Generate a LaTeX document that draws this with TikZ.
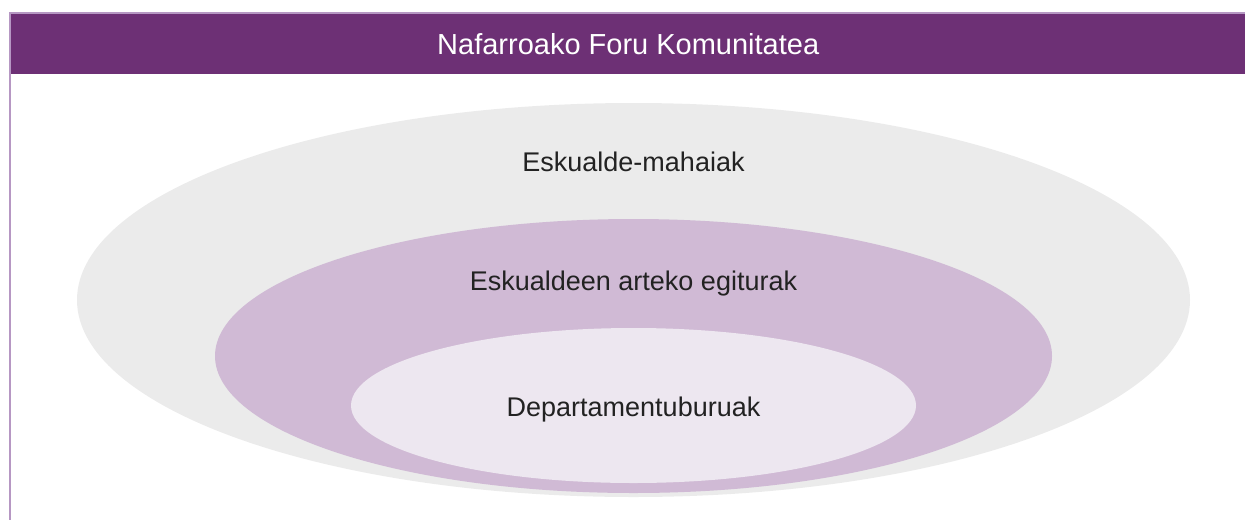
\documentclass[tikz,border=0pt]{standalone}
\usepackage{fontspec}
\setmainfont{Liberation Sans}
\usetikzlibrary{%
    shapes.geometric,
    positioning
}
\definecolor{headpurple}{HTML}{6D3075}
\definecolor{framepurple}{HTML}{B697C3}
\definecolor{outergrey}{HTML}{EBEBEB}
\definecolor{midpurple}{HTML}{D0BAD5}
\definecolor{innerpurple}{HTML}{EDE7F0}
\definecolor{textgrey}{HTML}{222222}

\begin{document}
\begin{tikzpicture}[x=1pt, y=-1pt,
    ring/.style={ellipse, draw=none, inner sep=0pt},
    lbl/.style={text=textgrey, font=\fontsize{27}{32}\selectfont}]
      \useasboundingbox (0,0) rectangle (1245,520);

      % frame and header
      \coordinate (f_tr) at (1245,13);
      \coordinate (f_tl) at (10,13);
      \coordinate (f_bl) at (10,520);
      \node[anchor=north west, fill=headpurple, inner sep=0pt, minimum width=1234pt, minimum height=60pt,
        text=white, font=\fontsize{29}{34}\selectfont] (head) at (11,14) {Nafarroako Foru Komunitatea};
      \draw[framepurple, line width=2pt] (f_tr) -- (f_tl) -- (f_bl);

      % nested ellipses
      \node[ring, fill=outergrey, minimum width=1113pt, minimum height=394pt] (outer) at (633.5,300) {};
      \node[ring, fill=midpurple, minimum width=837pt, minimum height=274pt] (mid) at (633.5,356) {};
      \node[ring, fill=innerpurple, minimum width=565pt, minimum height=155pt] (inner) at (633.5,405.5) {};

      \node[lbl] (outer_t) at (633.5,162) {Eskualde-mahaiak};
      \node[lbl] (mid_t) at (633.5,284) {Eskualdeen arteko egiturak};
      \node[lbl] (inner_t) at (633.5,410) {Departamentuburuak};
\end{tikzpicture}
\end{document}
